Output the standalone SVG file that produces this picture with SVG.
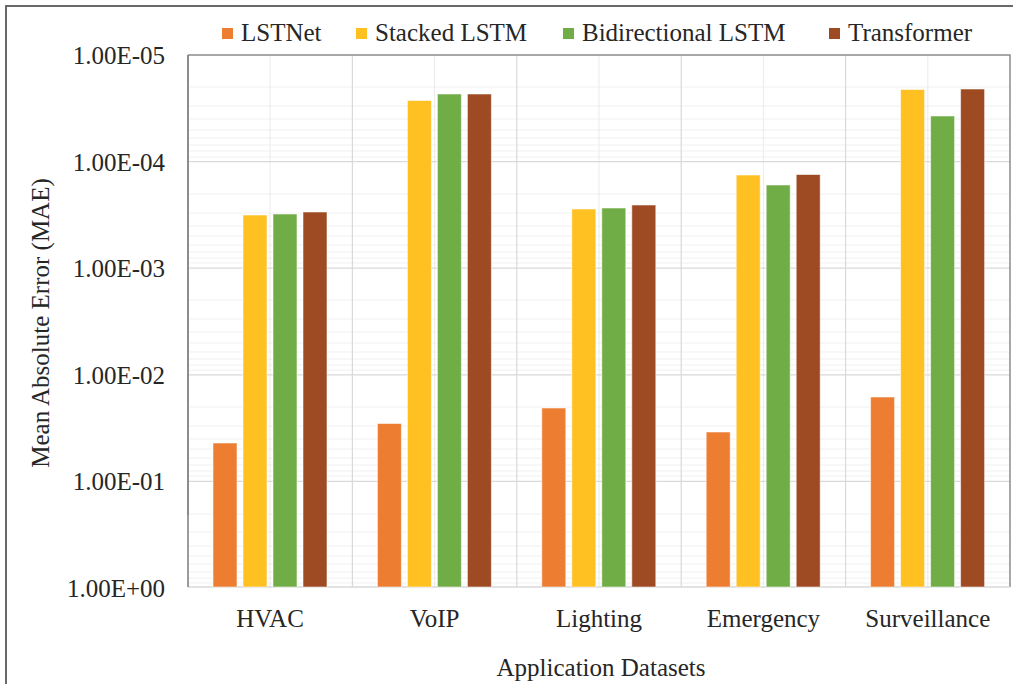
<svg xmlns="http://www.w3.org/2000/svg" width="1013" height="684" viewBox="0 0 1013 684">
  <style>
    text { font-family: "Liberation Serif", "Times New Roman", serif; font-size: 25px; fill: #262626; }
    .tick { text-anchor: end; }
    .cat { text-anchor: middle; }
    .major { stroke: #D9D9D9; stroke-width: 1.2; }
    .minor { stroke: #F0F0F0; stroke-width: 1; }
    .vmid { stroke: #EBEBEB; stroke-width: 1; }
    .s0 { fill: #ED7D31; }
    .s1 { fill: #FFC022; }
    .s2 { fill: #70AD47; }
    .s3 { fill: #9E4A22; }
    .bar { stroke: #FFFFFF; stroke-opacity: 0.55; stroke-width: 1; }
  </style>

  <rect x="0" y="0" width="1013" height="684" fill="#FFFFFF"/>
  <!-- outer frame (only left and top edges fall inside the canvas) -->
  <rect x="6" y="6" width="1030" height="720" fill="none" stroke="#5A5A5A" stroke-width="1.8"/>

  <!-- gridlines -->
  <g id="grid">
    <!-- minor log gridlines: y = top + 106.6*log10(k) per decade -->
    <g class="minor">
      <path d="M188 87H1010M188 106H1010M188 119H1010M188 130H1010M188 138H1010M188 145H1010M188 151H1010M188 157H1010"/>
      <path d="M188 194H1010M188 213H1010M188 226H1010M188 236H1010M188 245H1010M188 252H1010M188 258H1010M188 263H1010"/>
      <path d="M188 300H1010M188 319H1010M188 332H1010M188 343H1010M188 352H1010M188 359H1010M188 365H1010M188 370H1010"/>
      <path d="M188 407H1010M188 426H1010M188 439H1010M188 449H1010M188 458H1010M188 465H1010M188 471H1010M188 476H1010"/>
      <path d="M188 514H1010M188 532H1010M188 546H1010M188 556H1010M188 564H1010M188 572H1010M188 578H1010M188 583H1010"/>
    </g>
    <g class="vmid">
      <path d="M270 55V587M434.6 55V587M599 55V587M763.4 55V587M927.8 55V587"/>
    </g>
    <g class="major">
      <path d="M188 161.6H1010M188 268.2H1010M188 374.8H1010M188 481.4H1010"/>
      <path d="M352.4 55V587M516.8 55V587M681.2 55V587M845.6 55V587"/>
    </g>
  </g>

  <!-- plot frame -->
  <g id="frame">
    <path d="M188 55H1010V587" fill="none" stroke="#8C8C8C" stroke-width="1.5"/>
    <path d="M188 587H1010" stroke="#D9D9D9" stroke-width="1.5"/>
    <path d="M188 55V515" stroke="#808080" stroke-width="1.8"/>
    <path d="M188 515V587" stroke="#3A3A3A" stroke-width="1"/>
  </g>

  <!-- bars -->
  <g id="series-lstnet" class="s0">
    <rect class="bar" x="213" y="443" width="24" height="144"/>
    <rect class="bar" x="377.4" y="423.5" width="24" height="163.5"/>
    <rect class="bar" x="541.8" y="408" width="24" height="179"/>
    <rect class="bar" x="706.2" y="432" width="24" height="155"/>
    <rect class="bar" x="870.6" y="397" width="24" height="190"/>
  </g>
  <g id="series-stacked-lstm" class="s1">
    <rect class="bar" x="243" y="215" width="24" height="372"/>
    <rect class="bar" x="407.4" y="100.5" width="24" height="486.5"/>
    <rect class="bar" x="571.8" y="209" width="24" height="378"/>
    <rect class="bar" x="736.2" y="175" width="24" height="412"/>
    <rect class="bar" x="900.6" y="89.5" width="24" height="497.5"/>
  </g>
  <g id="series-bidirectional-lstm" class="s2">
    <rect class="bar" x="273" y="214" width="24" height="373"/>
    <rect class="bar" x="437.4" y="94" width="24" height="493"/>
    <rect class="bar" x="601.8" y="208" width="24" height="379"/>
    <rect class="bar" x="766.2" y="185" width="24" height="402"/>
    <rect class="bar" x="930.6" y="116" width="24" height="471"/>
  </g>
  <g id="series-transformer" class="s3">
    <rect class="bar" x="303" y="212" width="24" height="375"/>
    <rect class="bar" x="467.4" y="94" width="24" height="493"/>
    <rect class="bar" x="631.8" y="205" width="24" height="382"/>
    <rect class="bar" x="796.2" y="174.5" width="24" height="412.5"/>
    <rect class="bar" x="960.6" y="89" width="24" height="498"/>
  </g>

  <!-- y-axis tick labels (reversed log scale) -->
  <g id="y-ticks">
    <text class="tick" x="165" y="64">1.00E-05</text>
    <text class="tick" x="165" y="170.6">1.00E-04</text>
    <text class="tick" x="165" y="277.2">1.00E-03</text>
    <text class="tick" x="165" y="383.8">1.00E-02</text>
    <text class="tick" x="165" y="490.4">1.00E-01</text>
    <text class="tick" x="165" y="597">1.00E+00</text>
  </g>

  <!-- category labels -->
  <g id="x-ticks">
    <text class="cat" x="270" y="627">HVAC</text>
    <text class="cat" x="434.6" y="627">VoIP</text>
    <text class="cat" x="599" y="627">Lighting</text>
    <text class="cat" x="763.4" y="627">Emergency</text>
    <text class="cat" x="927.8" y="627">Surveillance</text>
  </g>

  <!-- axis titles -->
  <text id="x-title" class="cat" x="601" y="676">Application Datasets</text>
  <text id="y-title" class="cat" transform="translate(49 323) rotate(-90)">Mean Absolute Error (MAE)</text>

  <!-- legend -->
  <g id="legend">
    <rect class="s0" x="222" y="28" width="11" height="11"/>
    <text x="241" y="41">LSTNet</text>
    <rect class="s1" x="356" y="28" width="11" height="11"/>
    <text x="375" y="41">Stacked LSTM</text>
    <rect class="s2" x="563" y="28" width="11" height="11"/>
    <text x="582" y="41">Bidirectional LSTM</text>
    <rect class="s3" x="829" y="28" width="11" height="11"/>
    <text x="848" y="41">Transformer</text>
  </g>
</svg>
